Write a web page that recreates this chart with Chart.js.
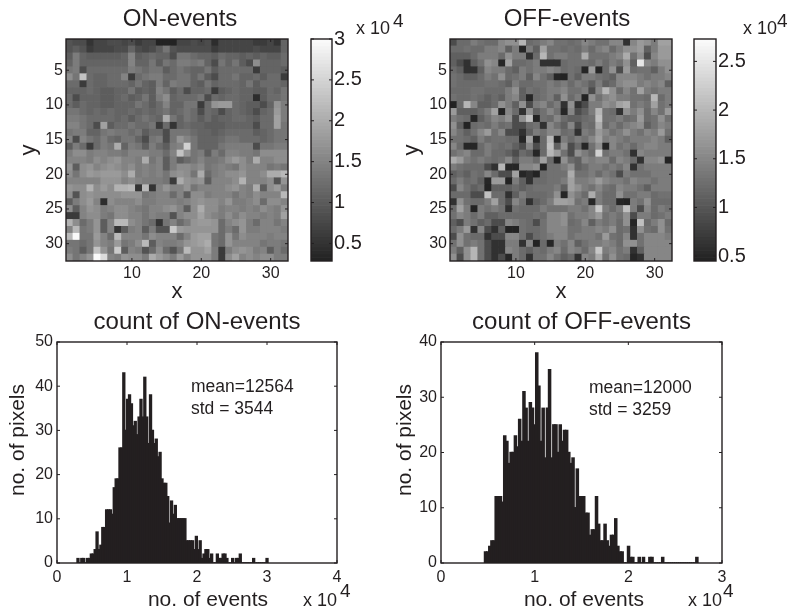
<!DOCTYPE html>
<html>
<head>
<meta charset="utf-8">
<title>ON and OFF events</title>
<script src="https://cdn.jsdelivr.net/npm/chart.js@4"></script>
<style>
  html, body { margin: 0; background: #fff; }
  canvas { position: absolute; }
</style>
</head>
<body>
<canvas id="onMap" width="300" height="305" style="left:0;top:0"></canvas>
<canvas id="onBar" width="110" height="305" style="left:300px;top:0"></canvas>
<canvas id="offMap" width="290" height="305" style="left:395px;top:0"></canvas>
<canvas id="offBar" width="105" height="305" style="left:685px;top:0"></canvas>
<canvas id="onHist" width="355" height="306" style="left:0;top:305px"></canvas>
<canvas id="offHist" width="395" height="306" style="left:395px;top:305px"></canvas>
<script>
// events per pixel, in thousands, row 1 is the top of the map
const onEvents = [
  [9,8,8,5,7,7,8,8,7,8,6,7,7,3,3,3,7,7,8,7,8,4,7,7,7,7,7,6,6,7,5,11],
  [9,10,9,6,7,7,7,8,8,11,8,7,8,10,13,9,8,8,8,8,8,6,7,7,7,7,7,8,7,7,7,11],
  [10,14,11,10,10,10,10,10,11,15,10,11,12,11,11,8,13,13,12,11,11,10,12,11,11,10,11,10,11,10,10,12],
  [11,14,11,11,11,11,11,11,11,15,11,11,13,10,13,12,14,14,13,14,11,8,13,11,13,10,8,16,11,11,11,12],
  [13,14,8,12,12,12,12,12,12,14,13,12,13,13,10,12,13,12,11,11,13,10,12,12,12,12,12,6,11,11,11,10],
  [16,13,23,12,11,11,12,12,15,6,12,13,14,14,12,12,13,13,11,13,10,8,12,12,13,11,11,12,10,12,12,6],
  [12,12,6,12,11,11,12,12,12,11,13,11,10,14,11,14,13,13,11,10,13,11,12,12,12,11,13,10,12,12,12,11],
  [11,11,11,12,11,10,10,11,11,13,10,11,10,15,13,10,12,8,11,11,12,6,10,11,12,11,11,10,10,12,11,13],
  [12,8,11,11,11,10,10,11,12,10,11,13,10,14,16,11,12,12,12,13,8,12,11,12,12,11,11,4,10,12,12,13],
  [12,10,12,11,11,10,10,11,11,11,13,12,10,12,15,11,11,13,13,6,12,17,18,18,12,11,10,10,8,11,17,14],
  [13,13,12,11,12,11,12,11,11,12,11,12,11,12,13,11,12,13,12,8,12,11,8,11,12,11,10,8,11,12,18,14],
  [14,14,13,12,12,12,12,11,12,10,12,13,12,11,20,13,11,13,12,10,12,10,11,11,12,12,11,10,12,12,19,14],
  [15,15,13,12,8,19,10,12,12,13,12,12,13,6,12,5,11,12,11,11,10,10,10,11,11,11,11,8,12,12,19,13],
  [13,14,14,11,11,13,14,13,13,12,13,10,12,12,8,13,13,13,12,11,11,10,11,12,12,12,12,10,11,12,13,13],
  [15,8,15,13,12,14,12,11,13,13,11,8,13,14,8,13,17,15,13,11,11,11,12,13,13,12,12,12,11,12,13,13],
  [10,14,12,6,12,14,13,20,11,14,13,10,14,12,10,14,15,25,13,11,11,11,13,14,14,14,14,8,13,13,14,14],
  [14,16,16,14,15,15,14,14,13,15,15,15,14,14,12,15,23,17,13,14,10,14,12,15,15,14,14,13,16,16,16,16],
  [15,15,15,14,16,15,16,17,15,15,14,20,13,15,10,14,10,12,13,15,13,13,14,16,18,16,14,20,15,15,16,16],
  [17,10,16,17,15,16,17,16,15,16,14,15,14,15,10,14,16,16,15,16,13,14,15,14,13,16,15,15,15,13,14,13],
  [16,13,16,18,17,18,18,18,16,20,14,15,14,15,13,16,17,16,13,20,12,14,15,16,16,17,15,15,16,20,20,22],
  [15,15,15,15,15,17,17,17,15,16,15,14,14,14,13,6,20,17,16,17,10,15,15,15,16,21,15,15,15,16,9,17],
  [17,16,16,21,16,18,16,21,21,22,5,22,5,15,17,15,15,17,13,15,15,15,15,16,17,15,14,20,10,16,18,14],
  [16,9,16,17,16,16,16,16,17,17,17,13,14,15,15,12,15,10,16,16,14,15,15,15,13,15,14,16,15,15,15,22],
  [10,14,16,18,15,4,16,15,15,15,16,14,14,15,15,15,14,15,16,17,16,16,15,17,14,14,15,16,12,16,16,15],
  [16,10,15,17,16,14,15,16,16,15,14,13,15,15,16,17,15,10,16,20,16,16,14,15,15,14,15,14,16,15,14,17],
  [6,6,15,16,16,14,13,16,16,15,15,13,15,14,14,9,15,16,16,19,16,15,14,16,14,16,15,15,14,15,14,19],
  [21,16,12,14,17,10,15,22,22,16,15,13,12,5,13,15,12,14,17,18,18,17,12,15,16,17,14,12,15,15,13,15],
  [15,22,13,14,17,10,15,5,10,14,15,10,14,9,9,24,18,17,17,17,17,17,12,14,12,17,14,14,15,15,15,14],
  [22,30,13,13,18,15,12,22,15,15,15,13,16,15,15,15,12,15,18,19,19,13,12,17,13,16,15,15,15,14,15,15],
  [13,13,12,13,17,15,14,18,13,14,16,22,10,15,14,14,15,17,18,19,20,13,12,17,15,15,15,15,13,14,14,13],
  [14,13,10,13,23,17,13,24,10,15,14,9,12,16,12,9,13,22,17,17,19,14,6,14,16,17,16,14,15,10,14,12],
  [16,13,15,17,30,26,15,14,17,16,16,14,20,18,16,14,18,15,17,17,17,14,6,16,19,15,16,15,16,16,14,14],
]
const offEvents = [
  [9,12,12,14,13,12,12,15,16,16,20,12,13,14,15,13,13,12,13,15,14,13,13,15,15,6,15,17,16,14,18,18],
  [12,12,13,12,12,14,14,15,11,14,5,14,11,18,13,13,12,13,12,14,12,14,15,12,14,16,16,17,11,14,17,17],
  [11,11,11,12,14,14,14,12,16,14,14,6,12,20,13,14,14,13,13,19,13,13,13,14,15,19,13,16,9,15,17,17],
  [11,9,6,11,13,16,15,5,18,12,12,13,14,6,6,6,12,13,13,13,12,14,12,14,13,16,11,25,15,14,16,16],
  [12,11,6,6,11,15,14,14,12,11,14,13,14,14,15,14,12,13,12,5,17,5,12,16,9,17,12,13,13,11,14,16],
  [13,12,11,11,12,14,13,16,12,13,14,11,15,13,11,5,4,13,11,14,14,13,12,11,15,15,15,14,13,14,14,15],
  [13,12,12,12,12,13,13,12,11,14,12,12,13,13,14,13,14,12,14,13,11,14,11,12,15,16,16,14,15,14,15,11],
  [12,12,12,13,13,12,12,12,14,16,11,13,12,13,14,14,15,13,13,14,9,15,20,16,12,15,13,18,14,13,14,14],
  [13,12,12,13,12,11,12,11,14,15,11,5,12,13,14,11,16,12,14,3,16,13,15,16,14,14,13,13,12,20,12,14],
  [4,12,20,15,11,11,12,16,14,11,16,9,14,15,12,14,6,16,6,9,14,14,16,15,18,19,13,14,13,18,13,14],
  [17,11,11,11,12,14,18,3,15,12,6,16,11,13,15,13,5,15,9,11,14,20,13,12,6,16,14,16,12,15,13,17],
  [14,13,12,5,11,13,15,14,16,9,16,21,4,13,12,15,12,11,11,12,13,21,13,13,14,12,13,17,12,13,16,13],
  [16,11,3,12,13,12,14,12,13,9,9,12,13,6,15,13,11,15,9,13,12,19,12,14,12,14,15,16,11,13,15,14],
  [15,13,11,13,15,17,13,15,9,9,6,11,14,13,15,15,12,13,6,14,13,17,15,13,14,16,14,13,15,14,17,13],
  [13,13,12,11,14,12,13,13,12,12,5,18,5,12,20,5,14,12,14,13,15,18,14,15,14,13,14,14,14,15,14,11],
  [15,12,5,5,12,14,13,12,13,11,9,15,9,12,21,11,16,9,12,5,13,16,3,15,13,14,12,14,15,15,14,14],
  [13,14,15,12,12,14,12,12,11,9,12,11,5,12,20,17,13,9,16,14,12,23,13,14,14,13,6,15,14,14,14,14],
  [19,17,14,13,14,13,12,13,15,11,14,14,12,18,12,3,16,12,11,15,14,15,15,12,15,14,12,6,15,15,16,4],
  [14,13,12,12,12,9,6,20,5,5,15,15,16,3,13,13,14,16,11,12,14,14,13,14,13,15,6,13,14,14,14,14],
  [11,12,11,13,12,15,12,9,9,18,5,6,3,12,13,13,13,19,13,13,14,12,14,13,9,14,13,13,13,14,14,14],
  [12,14,12,13,11,5,17,17,3,14,11,6,12,12,13,13,14,18,14,14,15,17,15,14,14,13,15,14,14,13,14,14],
  [9,15,13,11,12,4,11,11,11,12,11,12,13,13,13,14,11,18,16,14,13,15,13,12,15,14,14,13,11,14,14,14],
  [12,12,12,9,9,21,12,12,6,11,14,12,12,12,13,16,5,16,14,12,19,14,12,12,16,13,13,14,14,12,13,13],
  [6,16,13,12,12,14,18,12,9,15,13,6,11,12,14,18,18,17,13,14,5,14,12,12,5,4,14,13,16,12,12,12],
  [12,18,14,3,14,13,14,13,6,13,12,12,12,14,13,13,13,14,14,13,15,22,14,12,14,21,14,9,15,12,14,13],
  [13,15,14,12,14,11,11,12,12,12,12,12,13,12,15,15,16,13,14,14,15,17,13,14,13,16,9,14,14,12,13,14],
  [11,9,14,13,11,12,9,9,15,14,13,12,9,13,15,15,16,12,13,15,11,14,13,14,12,16,5,21,12,14,16,12],
  [12,14,17,6,15,9,6,11,3,4,13,12,12,13,15,15,15,13,13,14,14,15,14,16,12,13,6,16,13,12,16,13],
  [9,16,13,12,12,6,9,9,15,15,13,9,12,13,14,15,15,13,14,14,14,13,17,13,12,15,6,13,15,15,15,14],
  [13,16,13,14,13,9,6,6,14,14,6,15,3,12,5,14,13,15,11,13,14,14,15,14,12,16,16,13,15,15,15,15],
  [14,11,16,20,13,9,6,6,15,14,12,11,13,12,14,15,12,15,14,12,15,22,14,15,13,14,6,11,15,15,15,15],
  [16,9,16,20,13,9,6,9,5,14,12,6,13,13,15,13,11,12,6,15,14,19,13,16,13,12,5,6,15,15,15,15],
]

// histogram counts, 100 bins between the smallest and largest pixel count
const onCounts = [
  1,0,1,1,0,1,1,2,2,3,7,3,4,8,8,12,12,12,11,17,19,19,26,26,43,30,37,38,36,31,
  32,29,33,37,33,42,33,27,38,30,27,28,24,25,19,18,18,15,9,14,11,13,10,10,10,10,10,5,5,5,
  5,3,6,3,5,1,2,3,3,1,2,0,0,2,1,1,2,2,1,0,0,1,0,1,1,2,0,0,0,0,
  0,0,1,0,0,0,0,0,0,1,
]
const offCounts = [
  2,2,3,4,4,12,12,12,11,23,22,18,20,20,23,21,26,22,31,28,22,29,28,25,38,32,22,28,19,28,
  35,19,25,25,20,25,22,24,24,20,18,19,10,17,12,12,12,9,9,5,6,6,12,7,4,4,7,4,3,5,
  5,8,3,2,2,0,0,3,1,1,0,0,1,0,1,0,0,1,1,0,0,0,0,1,0,0,0,0,0,0,
  0,0,0,0,0,0,0,0,0,1,
]

const mapXTicks = [10, 20, 30]
const mapYTicks = [5, 10, 15, 20, 25, 30]
const onBarTicks = [5000, 10000, 15000, 20000, 25000, 30000]
const offBarTicks = [5000, 10000, 15000, 20000, 25000]
const onHistXTicks = [0, 10000, 20000, 30000, 40000]
const offHistXTicks = [0, 10000, 20000, 30000]
const onHistYTicks = [0, 10, 20, 30, 40, 50]
const offHistYTicks = [0, 10, 20, 30, 40]

const ON_RANGE = [2850, 30000]
const OFF_RANGE = [4500, 27300]
const ON_BINS = [2860, 30140]
const OFF_BINS = [4640, 27430]

const INK = '#231f20'
const FONT = 'Liberation Sans, Arial, sans-serif'

const grayOf = (v, [lo, hi]) => {
  const t = Math.max(0, Math.min(1, (v - lo) / (hi - lo)))
  const level = Math.round(t * 63) / 63
  const g = Math.round(35 + level * 215)
  return `rgb(${g},${g},${g})`
}

// MATLAB style box: frame all round, short ticks pointing inwards on each side
const frameTicks = {
  id: 'frameTicks',
  afterDatasetsDraw(chart) {
    const { ctx, chartArea: a, scales } = chart
    ctx.save()
    ctx.strokeStyle = INK
    ctx.lineWidth = 1.4
    ctx.strokeRect(a.left, a.top, a.right - a.left, a.bottom - a.top)
    ctx.lineWidth = 1
    ctx.beginPath()
    if (scales.x.options.display) {
      scales.x.ticks.forEach((t) => {
        const px = scales.x.getPixelForValue(t.value)
        ctx.moveTo(px, a.bottom)
        ctx.lineTo(px, a.bottom - 3)
        ctx.moveTo(px, a.top)
        ctx.lineTo(px, a.top + 3)
      })
    }
    scales.y.ticks.forEach((t) => {
      const py = scales.y.getPixelForValue(t.value)
      ctx.moveTo(a.left, py)
      ctx.lineTo(a.left + 3, py)
      ctx.moveTo(a.right, py)
      ctx.lineTo(a.right - 3, py)
    })
    ctx.stroke()
    ctx.restore()
  },
}

// free text: exponents, the mean/std note and the histogram axis labels
const notes = {
  id: 'notes',
  afterDraw(chart, args, opts) {
    const { ctx } = chart
    ;(opts.items || []).forEach((n) => {
      ctx.save()
      ctx.fillStyle = INK
      ctx.font = `${n.size}px ${FONT}`
      ctx.textBaseline = 'middle'
      ctx.textAlign = n.align || 'left'
      ctx.translate(n.x, n.y)
      if (n.rotate) ctx.rotate(-Math.PI / 2)
      ctx.fillText(n.text, 0, 0)
      ctx.restore()
    })
  },
}

Chart.register(frameTicks, notes)
Chart.defaults.font.family = FONT
Chart.defaults.color = INK
Chart.defaults.animation = false

const tickList = (list) => (scale) => {
  scale.ticks = list.map((value) => ({ value }))
}

const axisBase = (list, size, padding, fitKey, fitValue) => ({
  type: 'linear',
  offset: false,
  grid: { display: false, drawTicks: false },
  border: { display: false },
  afterBuildTicks: tickList(list),
  afterFit: (scale) => {
    scale[fitKey] = fitValue
  },
  ticks: { font: { size }, padding, autoSkip: false, maxRotation: 0 },
})

function drawMap(id, rows, range, opts) {
  const cells = rows.flatMap((row, r) =>
    row.map((v, c) => ({ x: c + 1, y: [r + 0.5, r + 1.5], v: v * 1000 }))
  )
  new Chart(document.getElementById(id), {
    type: 'bar',
    data: {
      datasets: [
        {
          data: cells,
          barPercentage: 1,
          categoryPercentage: 1,
          backgroundColor: (c) => grayOf(c.raw.v, range),
        },
      ],
    },
    // the title sits a little right of the plot centre in the original
    plugins: [
      {
        id: 'titleShift',
        afterLayout(chart) {
          chart.titleBlock.left += opts.titleShift
          chart.titleBlock.right += opts.titleShift
        },
      },
    ],
    options: {
      responsive: false,
      layout: { padding: { right: opts.right } },
      plugins: {
        legend: { display: false },
        tooltip: { enabled: false },
        title: {
          display: true,
          text: opts.title,
          fullSize: false,
          color: INK,
          font: { size: 24, weight: 'normal', lineHeight: 1 },
          padding: { top: 7, bottom: 8 },
        },
      },
      scales: {
        x: {
          ...axisBase(mapXTicks, 16, 3, 'height', 44),
          min: 0.5,
          max: 32.5,
          title: { display: true, text: 'x', color: INK, font: { size: 22 }, padding: { top: 0, bottom: 0 } },
        },
        y: {
          ...axisBase(mapYTicks, 16, 3, 'width', opts.left),
          reverse: true,
          min: 0.5,
          max: 32.5,
          title: { display: true, text: 'y', color: INK, font: { size: 22 }, padding: { top: opts.yTitleTop, bottom: 0 } },
        },
      },
    },
  })
}

function drawColorbar(id, range, ticks, opts) {
  // the 64 levels of the gray colormap
  const step = (range[1] - range[0]) / 64
  const levels = Array.from({ length: 64 }, (_, i) => ({
    x: 'level',
    y: [range[0] + i * step, range[0] + (i + 1) * step],
    v: range[0] + (i + 0.5) * step,
  }))
  new Chart(document.getElementById(id), {
    type: 'bar',
    data: {
      labels: ['level'],
      datasets: [
        {
          data: levels,
          barPercentage: 1,
          categoryPercentage: 1,
          backgroundColor: (c) => grayOf(c.raw.v, range),
        },
      ],
    },
    options: {
      responsive: false,
      layout: { padding: { left: opts.left, top: 39, bottom: 44 } },
      plugins: {
        legend: { display: false },
        tooltip: { enabled: false },
        notes: { items: opts.notes },
      },
      scales: {
        x: { type: 'category', display: false },
        y: {
          ...axisBase(ticks, 20, 2, 'width', opts.right),
          position: 'right',
          min: range[0],
          max: range[1],
          ticks: {
            font: { size: 20 },
            padding: 2,
            autoSkip: false,
            callback: (v) => String(v / 10000),
          },
        },
      },
    },
  })
}

function drawHist(id, counts, bins, opts) {
  const width = (bins[1] - bins[0]) / counts.length
  const bars = counts.map((y, i) => ({ x: bins[0] + (i + 0.5) * width, y }))
  new Chart(document.getElementById(id), {
    type: 'bar',
    data: {
      datasets: [
        {
          data: bars,
          barPercentage: 1,
          categoryPercentage: 1,
          backgroundColor: INK,
          inflateAmount: 0.7,
        },
      ],
    },
    options: {
      responsive: false,
      layout: { padding: { right: opts.right } },
      plugins: {
        legend: { display: false },
        tooltip: { enabled: false },
        title: {
          display: true,
          text: opts.title,
          fullSize: false,
          color: INK,
          font: { size: 24, weight: 'normal', lineHeight: 1 },
          padding: { top: 5, bottom: 8 },
        },
        notes: { items: opts.notes },
      },
      scales: {
        x: {
          ...axisBase(opts.xTicks, 16, 5, 'height', 48),
          min: 0,
          max: opts.xMax,
          ticks: {
            font: { size: 16 },
            padding: 5,
            autoSkip: false,
            maxRotation: 0,
            callback: (v) => String(v / 10000),
          },
        },
        y: {
          ...axisBase(opts.yTicks, 16, 4, 'width', opts.left),
          min: 0,
          max: opts.yMax,
        },
      },
    },
  })
}

drawMap('onMap', onEvents, ON_RANGE, { title: 'ON-events', left: 66, right: 12, yTitleTop: 16, titleShift: 3 })
drawMap('offMap', offEvents, OFF_RANGE, { title: 'OFF-events', left: 55, right: 13, yTitleTop: 4, titleShift: 6 })

drawColorbar('onBar', ON_RANGE, onBarTicks, {
  left: 11,
  right: 78,
  notes: [
    { text: 'x 10', x: 56, y: 29, size: 18 },
    { text: '4', x: 93, y: 22, size: 19 },
  ],
})
drawColorbar('offBar', OFF_RANGE, offBarTicks, {
  left: 9,
  right: 74,
  notes: [
    { text: 'x 10', x: 58, y: 29, size: 18 },
    { text: '4', x: 92, y: 22, size: 19 },
  ],
})

drawHist('onHist', onCounts, ON_BINS, {
  title: 'count of ON-events',
  left: 57,
  right: 18,
  xMax: 40000,
  yMax: 50,
  xTicks: onHistXTicks,
  yTicks: onHistYTicks,
  notes: [
    { text: 'mean=12564', x: 191, y: 82, size: 17.5 },
    { text: 'std = 3544', x: 191, y: 104, size: 17.5 },
    { text: 'no. of events', x: 208, y: 295, size: 21, align: 'center' },
    { text: 'x 10', x: 303, y: 296, size: 18 },
    { text: '4', x: 340, y: 287, size: 19 },
    { text: 'no. of pixels', x: 18, y: 135, size: 21, align: 'center', rotate: true },
  ],
})
drawHist('offHist', offCounts, OFF_BINS, {
  title: 'count of OFF-events',
  left: 46,
  right: 68,
  xMax: 30000,
  yMax: 40,
  xTicks: offHistXTicks,
  yTicks: offHistYTicks,
  notes: [
    { text: 'mean=12000', x: 194, y: 83, size: 17.5 },
    { text: 'std = 3259', x: 194, y: 105, size: 17.5 },
    { text: 'no. of events', x: 189, y: 295, size: 21, align: 'center' },
    { text: 'x 10', x: 293, y: 296, size: 18 },
    { text: '4', x: 328, y: 287, size: 19 },
    { text: 'no. of pixels', x: 10, y: 135, size: 21, align: 'center', rotate: true },
  ],
})
</script>
</body>
</html>
